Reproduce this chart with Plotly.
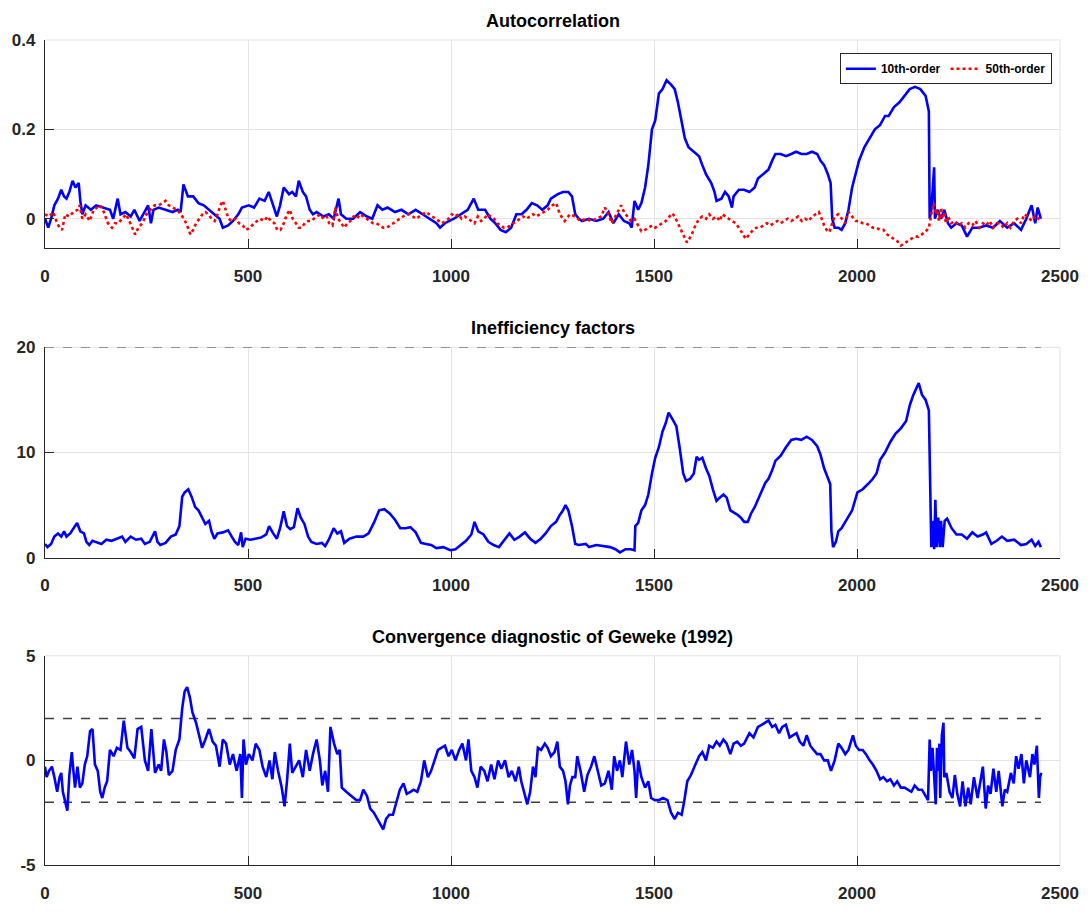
import plotly.graph_objects as go

# ---------------- data ----------------
ac10_x = [0, 8, 15, 23, 32, 40, 47, 53, 60, 68, 75, 83, 87, 92, 100, 113, 126, 143, 160, 168, 179, 186, 198, 211, 220, 233, 245, 254, 261, 267, 280, 297, 314, 327, 334, 341, 352, 365, 378, 391, 404, 417, 430, 438, 451, 463, 476, 485, 502, 515, 528, 541, 551, 562, 571, 579, 588, 601, 609, 618, 625, 635, 643, 652, 660, 669, 677, 686, 699, 711, 723, 729, 742, 759, 776, 793, 806, 819, 831, 844, 862, 878, 895, 913, 930, 947, 964, 973, 985, 1007, 1024, 1041, 1056, 1067, 1084, 1097, 1109, 1122, 1135, 1148, 1161, 1174, 1186, 1199, 1212, 1225, 1238, 1246, 1263, 1276, 1289, 1298, 1306, 1315, 1323, 1340, 1358, 1375, 1388, 1400, 1413, 1426, 1439, 1445, 1452, 1461, 1469, 1478, 1486, 1495, 1503, 1512, 1521, 1531, 1542, 1551, 1559, 1568, 1576, 1585, 1598, 1611, 1619, 1628, 1641, 1649, 1654, 1666, 1675, 1684, 1692, 1696, 1709, 1722, 1735, 1748, 1756, 1769, 1782, 1791, 1799, 1812, 1825, 1838, 1850, 1863, 1876, 1889, 1902, 1910, 1919, 1928, 1935, 1939, 1945, 1954, 1962, 1971, 1979, 1988, 1997, 2005, 2018, 2031, 2044, 2057, 2069, 2078, 2091, 2104, 2117, 2130, 2143, 2156, 2169, 2177, 2179, 2183, 2190, 2192, 2198, 2207, 2215, 2224, 2232, 2245, 2258, 2271, 2284, 2301, 2318, 2335, 2352, 2370, 2387, 2404, 2417, 2430, 2439, 2445, 2453]
ac10_y = [0.0, -0.02, 0.0, 0.03, 0.045, 0.065, 0.05, 0.045, 0.06, 0.085, 0.07, 0.08, 0.04, 0.01, 0.03, 0.02, 0.03, 0.025, 0.02, 0.0, 0.045, 0.01, 0.015, 0.005, 0.02, -0.005, 0.015, 0.03, -0.01, 0.02, 0.025, 0.02, 0.015, 0.02, 0.015, 0.077, 0.05, 0.05, 0.035, 0.03, 0.02, 0.01, 0.0, -0.02, -0.015, -0.005, 0.01, 0.025, 0.03, 0.025, 0.045, 0.04, 0.06, 0.03, 0.005, 0.03, 0.07, 0.055, 0.06, 0.05, 0.085, 0.06, 0.05, 0.02, 0.01, 0.015, 0.01, 0.005, 0.01, 0.0, 0.045, 0.01, 0.0, 0.0, 0.015, 0.005, 0.0, 0.03, 0.02, 0.025, 0.015, 0.02, 0.01, 0.02, 0.01, 0.0, -0.01, -0.02, -0.01, 0.0, 0.01, 0.02, 0.045, 0.02, 0.02, 0.0, -0.01, -0.025, -0.03, -0.02, 0.01, 0.01, 0.02, 0.035, 0.03, 0.02, 0.03, 0.045, 0.055, 0.06, 0.06, 0.05, 0.01, 0.0, -0.005, 0.0, -0.005, 0.0, 0.015, -0.01, 0.01, -0.005, -0.01, -0.02, 0.04, 0.02, 0.035, 0.07, 0.12, 0.2, 0.22, 0.28, 0.29, 0.31, 0.3, 0.29, 0.26, 0.22, 0.18, 0.16, 0.15, 0.14, 0.12, 0.1, 0.08, 0.06, 0.04, 0.045, 0.06, 0.05, 0.025, 0.05, 0.065, 0.065, 0.06, 0.07, 0.09, 0.1, 0.11, 0.13, 0.145, 0.145, 0.14, 0.145, 0.15, 0.145, 0.145, 0.15, 0.145, 0.13, 0.12, 0.1, 0.08, 0.0, -0.02, -0.02, -0.025, -0.01, 0.02, 0.07, 0.1, 0.13, 0.16, 0.18, 0.2, 0.21, 0.23, 0.23, 0.25, 0.26, 0.275, 0.29, 0.295, 0.29, 0.275, 0.24, 0.0, 0.02, 0.115, 0.0, 0.02, 0.0, 0.02, -0.01, -0.02, -0.01, -0.015, -0.04, -0.02, -0.02, -0.015, -0.02, -0.005, -0.02, -0.01, -0.025, 0.0, 0.03, -0.01, 0.025, 0.0]

ac50_x = [0, 10, 20, 30, 36, 42, 50, 60, 70, 80, 85, 92, 100, 110, 120, 128, 136, 145, 155, 165, 172, 180, 190, 200, 210, 215, 222, 230, 240, 250, 260, 270, 280, 290, 297, 305, 315, 325, 335, 345, 352, 358, 365, 372, 380, 388, 395, 402, 410, 418, 425, 432, 438, 445, 452, 460, 470, 478, 487, 495, 505, 515, 522, 530, 540, 548, 556, 565, 572, 580, 588, 596, 603, 610, 618, 625, 632, 640, 648, 656, 662, 670, 678, 686, 694, 700, 708, 715, 722, 730, 737, 745, 752, 760, 768, 776, 784, 792, 800, 808, 816, 825, 833, 842, 850, 858, 866, 874, 882, 890, 898, 906, 914, 922, 930, 938, 946, 954, 962, 970, 978, 986, 994, 1002, 1010, 1018, 1026, 1034, 1042, 1050, 1058, 1066, 1074, 1082, 1090, 1098, 1106, 1114, 1122, 1130, 1138, 1146, 1154, 1162, 1170, 1178, 1186, 1194, 1202, 1210, 1220, 1238, 1250, 1259, 1268, 1280, 1293, 1306, 1319, 1332, 1345, 1358, 1370, 1379, 1388, 1396, 1405, 1413, 1419, 1426, 1435, 1443, 1452, 1461, 1469, 1478, 1486, 1495, 1503, 1512, 1521, 1529, 1538, 1545, 1551, 1559, 1568, 1575, 1581, 1587, 1593, 1602, 1611, 1619, 1628, 1636, 1645, 1654, 1662, 1668, 1675, 1684, 1692, 1701, 1709, 1718, 1726, 1735, 1744, 1752, 1761, 1769, 1778, 1786, 1795, 1804, 1812, 1821, 1829, 1838, 1846, 1855, 1864, 1872, 1881, 1889, 1898, 1906, 1913, 1919, 1925, 1932, 1939, 1945, 1954, 1962, 1971, 1979, 1988, 1997, 2005, 2014, 2022, 2031, 2039, 2048, 2057, 2065, 2074, 2082, 2091, 2099, 2108, 2117, 2125, 2134, 2142, 2151, 2160, 2168, 2177, 2181, 2185, 2190, 2194, 2198, 2202, 2207, 2211, 2215, 2219, 2224, 2232, 2241, 2250, 2258, 2267, 2275, 2284, 2292, 2301, 2310, 2318, 2327, 2335, 2344, 2352, 2361, 2370, 2378, 2387, 2395, 2404, 2412, 2421, 2430, 2438, 2447, 2453]
ac50_y = [0.01, 0.005, 0.015, -0.01, -0.02, -0.025, 0.01, 0.005, 0.015, 0.02, 0.03, 0.0, 0.01, -0.005, 0.02, 0.025, 0.03, 0.015, -0.01, -0.02, -0.01, -0.01, 0.0, 0.01, -0.01, -0.02, -0.035, -0.02, -0.01, 0.01, 0.02, 0.03, 0.03, 0.035, 0.04, 0.03, 0.025, 0.02, 0.01, -0.005, -0.02, -0.035, -0.025, -0.01, 0.0, 0.01, 0.015, 0.01, 0.0, -0.005, 0.01, 0.03, 0.04, 0.02, 0.0, -0.005, 0.0, -0.01, -0.015, -0.025, -0.02, -0.01, -0.005, 0.0, -0.005, 0.005, -0.005, -0.01, -0.025, -0.025, -0.01, 0.01, 0.02, 0.0, -0.01, -0.02, -0.02, -0.01, -0.005, -0.005, 0.0, 0.005, 0.01, 0.0, 0.005, -0.01, -0.015, 0.025, 0.0, -0.01, -0.02, -0.01, -0.005, 0.005, 0.0, 0.01, 0.005, 0.0, -0.005, -0.01, -0.01, -0.015, -0.02, -0.02, -0.015, -0.01, -0.005, 0.0, 0.005, 0.01, 0.01, 0.005, 0.0, 0.005, 0.01, 0.015, 0.01, 0.005, 0.0, -0.005, -0.01, -0.005, 0.0, 0.01, 0.005, 0.01, 0.0, 0.005, 0.0, -0.005, -0.01, 0.005, -0.005, 0.0, 0.01, 0.005, 0.0, -0.01, -0.015, -0.02, -0.02, -0.015, -0.01, -0.005, 0.0, 0.005, 0.0, 0.005, 0.01, 0.005, 0.01, 0.02, 0.03, 0.035, 0.01, -0.005, 0.01, 0.005, -0.005, 0.0, -0.005, 0.0, 0.005, 0.025, 0.01, -0.01, 0.005, 0.02, 0.03, 0.015, 0.005, -0.005, 0.0, -0.015, -0.028, -0.025, -0.02, -0.015, -0.02, -0.015, -0.01, -0.005, 0.005, 0.012, 0.005, -0.01, -0.025, -0.04, -0.053, -0.045, -0.035, -0.015, 0.0, 0.005, 0.0, 0.01, 0.0, 0.005, -0.005, 0.01, 0.005, 0.0, -0.005, -0.01, -0.02, -0.035, -0.045, -0.035, -0.025, -0.02, -0.02, -0.015, -0.01, -0.015, -0.01, -0.005, -0.01, -0.005, 0.0, -0.005, 0.0, 0.005, -0.005, 0.0, -0.005, 0.005, 0.01, 0.015, 0.0, -0.015, -0.025, -0.03, -0.01, 0.005, 0.01, 0.0, -0.01, 0.015, 0.005, -0.005, -0.005, -0.01, -0.01, -0.015, -0.02, -0.02, -0.025, -0.025, -0.035, -0.04, -0.045, -0.05, -0.06, -0.055, -0.05, -0.045, -0.04, -0.04, -0.035, -0.03, -0.02, 0.0, 0.02, 0.035, 0.01, 0.02, -0.005, 0.025, 0.0, 0.015, -0.01, 0.005, -0.01, -0.005, -0.015, -0.01, -0.02, -0.01, -0.015, -0.005, -0.02, -0.01, -0.015, -0.005, -0.02, -0.01, -0.01, -0.02, -0.01, -0.02, -0.005, 0.0, -0.01, 0.01, 0.005, -0.005, 0.005, 0.0, 0.01]

ineff_x = [0, 6, 15, 23, 32, 40, 47, 53, 62, 70, 79, 87, 96, 102, 109, 117, 126, 139, 151, 164, 177, 190, 198, 211, 224, 237, 246, 258, 271, 277, 284, 297, 310, 322, 331, 338, 344, 353, 361, 370, 378, 387, 395, 404, 410, 417, 425, 438, 451, 460, 468, 476, 483, 487, 494, 506, 519, 532, 545, 552, 562, 571, 579, 588, 596, 604, 613, 622, 630, 639, 648, 656, 669, 682, 690, 699, 711, 720, 729, 737, 750, 767, 784, 797, 810, 823, 836, 849, 862, 875, 888, 900, 913, 926, 938, 951, 964, 981, 998, 1011, 1024, 1037, 1050, 1058, 1067, 1080, 1092, 1105, 1118, 1131, 1144, 1156, 1169, 1182, 1195, 1208, 1221, 1233, 1246, 1259, 1267, 1276, 1282, 1289, 1298, 1306, 1315, 1332, 1340, 1358, 1375, 1392, 1405, 1416, 1430, 1443, 1452, 1454, 1461, 1469, 1478, 1486, 1495, 1503, 1512, 1521, 1529, 1536, 1545, 1555, 1563, 1572, 1579, 1589, 1598, 1605, 1611, 1619, 1628, 1636, 1645, 1654, 1662, 1671, 1679, 1688, 1696, 1705, 1714, 1722, 1731, 1739, 1748, 1756, 1765, 1774, 1782, 1791, 1799, 1812, 1825, 1838, 1850, 1863, 1876, 1889, 1902, 1910, 1919, 1928, 1934, 1937, 1941, 1948, 1954, 1962, 1975, 1988, 2001, 2014, 2027, 2039, 2048, 2057, 2069, 2082, 2095, 2108, 2121, 2130, 2139, 2152, 2160, 2169, 2177, 2180, 2183, 2187, 2190, 2193, 2196, 2200, 2204, 2207, 2211, 2216, 2222, 2233, 2245, 2258, 2271, 2284, 2297, 2310, 2318, 2331, 2344, 2357, 2370, 2387, 2404, 2417, 2430, 2439, 2447, 2453]
ineff_y = [1.3, 1.0, 1.3, 2.0, 2.3, 2.0, 2.5, 2.0, 2.3, 2.8, 3.3, 2.5, 2.3, 1.5, 1.2, 1.6, 1.5, 1.3, 1.7, 1.6, 1.8, 2.0, 1.5, 2.0, 1.7, 1.8, 1.3, 1.5, 2.5, 1.5, 1.2, 1.4, 2.0, 2.2, 3.0, 5.8, 6.2, 6.5, 5.8, 4.8, 4.5, 3.8, 3.2, 3.5, 2.5, 1.8, 2.3, 2.4, 2.6, 2.0, 1.5, 1.2, 2.4, 1.0, 1.8, 1.7, 1.8, 1.9, 2.2, 3.0, 2.3, 1.8, 2.8, 4.4, 3.0, 2.7, 2.9, 4.7, 3.8, 3.2, 2.0, 1.5, 1.3, 1.4, 1.1, 1.7, 2.8, 2.3, 2.5, 1.4, 1.8, 2.0, 2.0, 2.3, 3.3, 4.5, 4.6, 4.2, 3.6, 2.8, 2.8, 2.9, 2.4, 1.4, 1.3, 1.2, 0.9, 1.0, 0.7, 0.8, 1.2, 1.6, 2.2, 3.4, 2.5, 2.2, 1.5, 1.2, 1.0, 1.6, 2.3, 1.7, 2.0, 2.4, 1.8, 1.4, 1.8, 2.3, 3.0, 3.4, 4.0, 4.5, 5.0, 4.5, 3.0, 1.3, 1.2, 1.3, 1.0, 1.2, 1.1, 1.0, 0.8, 0.5, 0.8, 0.8, 0.7, 3.0, 3.3, 4.5, 5.0, 6.0, 8.0, 9.5, 10.5, 12.0, 12.8, 13.8, 13.2, 12.5, 10.5, 8.0, 7.3, 7.5, 8.0, 9.6, 9.3, 9.5, 8.5, 7.8, 6.5, 5.4, 5.7, 6.0, 5.7, 4.5, 4.3, 4.1, 3.8, 3.4, 3.4, 4.2, 4.8, 5.5, 6.3, 7.1, 7.5, 8.3, 9.2, 9.7, 10.5, 11.2, 11.3, 11.2, 11.5, 11.2, 10.6, 9.8, 8.5, 7.5, 7.0, 2.5, 1.0, 1.5, 2.5, 2.8, 3.6, 4.5, 6.2, 6.5, 7.0, 7.5, 8.0, 9.3, 10.0, 11.0, 11.8, 12.3, 13.0, 14.5, 15.5, 16.6, 15.5, 15.0, 14.0, 5.0, 1.0, 3.5, 0.8, 5.5, 1.0, 3.8, 1.0, 3.5, 1.0, 3.5, 3.7, 2.8, 2.2, 2.2, 1.8, 2.4, 2.0, 2.2, 2.4, 1.3, 1.6, 2.0, 1.6, 1.7, 1.2, 1.3, 1.7, 1.1, 1.5, 1.0]

gew_x = [0, 4, 10, 17, 23, 30, 36, 40, 44, 50, 55, 60, 66, 70, 74, 80, 86, 92, 98, 104, 111, 117, 123, 130, 136, 141, 147, 153, 160, 169, 177, 186, 194, 203, 211, 220, 228, 237, 246, 254, 262, 271, 280, 286, 293, 299, 305, 314, 322, 331, 338, 344, 350, 357, 363, 372, 380, 387, 395, 404, 413, 421, 430, 438, 446, 455, 463, 472, 481, 485, 489, 495, 502, 511, 519, 528, 536, 545, 553, 560, 566, 574, 583, 590, 596, 603, 609, 617, 626, 635, 643, 652, 660, 669, 677, 683, 690, 697, 703, 712, 720, 726, 731, 742, 754, 767, 776, 784, 793, 801, 810, 818, 827, 833, 840, 848, 857, 866, 874, 883, 891, 900, 908, 917, 926, 934, 943, 951, 959, 968, 976, 985, 994, 1002, 1011, 1020, 1028, 1037, 1043, 1050, 1058, 1065, 1073, 1082, 1090, 1099, 1107, 1116, 1124, 1133, 1142, 1150, 1159, 1167, 1173, 1182, 1188, 1195, 1202, 1208, 1214, 1222, 1231, 1238, 1246, 1255, 1262, 1268, 1276, 1282, 1288, 1293, 1299, 1306, 1311, 1319, 1328, 1336, 1345, 1353, 1362, 1370, 1379, 1388, 1396, 1402, 1409, 1416, 1422, 1431, 1439, 1446, 1452, 1456, 1461, 1469, 1478, 1486, 1493, 1502, 1512, 1522, 1533, 1542, 1551, 1559, 1568, 1574, 1582, 1591, 1602, 1611, 1619, 1628, 1636, 1645, 1654, 1662, 1671, 1679, 1688, 1696, 1705, 1714, 1722, 1735, 1745, 1756, 1765, 1774, 1782, 1791, 1799, 1808, 1816, 1825, 1834, 1842, 1851, 1859, 1868, 1876, 1885, 1893, 1902, 1910, 1919, 1928, 1936, 1945, 1954, 1962, 1971, 1979, 1990, 1997, 2005, 2014, 2022, 2031, 2039, 2048, 2057, 2065, 2074, 2082, 2091, 2099, 2108, 2117, 2125, 2134, 2142, 2151, 2160, 2168, 2175, 2179, 2182, 2186, 2190, 2194, 2197, 2200, 2203, 2205, 2209, 2213, 2215, 2220, 2228, 2235, 2241, 2247, 2254, 2260, 2267, 2274, 2280, 2288, 2297, 2303, 2310, 2317, 2323, 2329, 2336, 2343, 2349, 2358, 2364, 2370, 2379, 2386, 2392, 2398, 2405, 2411, 2417, 2426, 2432, 2437, 2443, 2448, 2451, 2454]
gew_y = [-0.3, -0.8, -0.5, -0.3, -0.8, -1.5, -0.8, -0.6, -1.5, -2.0, -2.4, -0.7, 0.4, -0.5, -1.3, -0.3, -1.3, -1.1, -0.2, 0.2, 1.4, 1.5, -0.2, -0.5, -1.5, -1.8, -1.3, -1.0, 0.5, 0.2, 0.6, 0.5, 1.9, 0.6, 0.4, 0.1, 1.5, 1.6, 0.0, -0.5, 1.5, -0.6, -0.2, -0.5, 1.0, 0.4, -0.7, -0.5, 0.5, 1.0, 2.5, 3.3, 3.5, 3.0, 2.3, 1.8, 1.2, 0.6, 1.0, 1.5, 0.9, 0.7, -0.3, 1.0, 0.8, -0.2, 0.3, -0.5, 0.3, -1.8, 1.0, -0.2, 0.3, 0.0, 0.8, 0.5, -0.3, -0.8, 0.0, -0.9, 0.4, -0.5, -1.3, -2.2, -1.0, 0.8, -0.6, -0.3, 0.0, -0.8, 0.5, -0.5, 0.3, 1.0, 0.0, -1.2, -0.5, -1.5, 1.6, 0.8, 0.3, 0.5, -1.3, -1.5, -1.7, -1.9, -1.9, -1.4, -1.7, -2.3, -2.5, -2.8, -3.1, -3.3, -2.8, -2.6, -2.6, -2.0, -1.4, -1.1, -1.6, -1.5, -1.4, -1.5, -1.0, 0.0, -0.8, -0.5, 0.0, 0.5, 0.6, 0.7, 0.2, 0.5, 0.0, 0.5, 0.8, 0.0, 1.0, -0.5, -0.8, -1.3, -0.3, -0.5, -1.0, -0.2, -0.9, 0.0, -0.4, 0.0, -0.8, -0.5, -1.0, -0.3, -1.0, -1.7, -2.1, -1.5, -0.3, -0.8, 0.6, 0.5, 0.8, 0.6, 0.2, 0.4, 0.9, -0.3, -0.5, -1.0, -2.1, -1.2, -0.8, -0.8, 0.2, -0.5, -1.5, -0.7, -0.3, 0.2, -0.6, -1.2, -1.1, -0.5, -1.4, 0.2, -0.5, 0.0, -0.8, 0.9, -0.2, 0.5, -0.5, -1.8, 0.0, -0.8, -1.3, -1.0, -1.8, -1.9, -1.9, -1.8, -1.9, -2.5, -2.8, -2.5, -2.6, -2.0, -1.0, -0.7, -0.2, 0.2, 0.4, 0.0, 0.7, 0.6, 0.9, 0.7, 1.0, 0.8, 0.3, 0.8, 0.9, 0.7, 0.8, 1.3, 1.1, 1.6, 1.7, 1.8, 1.9, 1.6, 1.7, 1.3, 1.6, 1.7, 1.1, 1.2, 1.3, 0.9, 0.7, 1.2, 0.7, 0.5, 0.3, 0.3, 0.0, 0.0, -0.5, 0.0, 0.8, 0.6, 0.3, 0.5, 1.2, 0.7, 0.5, 0.5, 0.3, 0.0, -0.2, -0.5, -0.9, -0.8, -1.0, -0.9, -1.2, -1.0, -1.3, -1.3, -1.4, -1.5, -1.2, -1.4, -1.4, -1.7, -1.9, 1.0, -0.5, 0.6, -1.0, -2.1, 0.6, -0.5, 0.8, -1.8, 1.2, 1.8, -0.8, -0.6, -1.5, -1.8, -0.7, -1.6, -2.2, -1.0, -2.2, -1.3, -2.1, -0.8, -1.8, -1.0, -0.3, -2.3, -1.2, -1.6, -0.4, -1.5, -0.5, -2.2, -1.4, -1.5, -0.6, -1.1, 0.2, -0.4, 0.3, -1.1, 0.0, -0.8, 0.3, -0.2, 0.7, -1.8, -0.8, -0.6]

ineff_ref = 20
gew_bands = [2, -2]
ref_x = [0, 2453]

x_ticks = [0, 500, 1000, 1500, 2000, 2500]
titles = ["Autocorrelation", "Inefficiency factors", "Convergence diagnostic of Geweke (1992)"]
legend_names = ["10th-order", "50th-order"]

# ---------------- styling ----------------
FONT = "Liberation Sans Narrow, Arial Narrow, Liberation Sans, Arial, sans-serif"
BLUE = "#0000ff"
RED = "#ff0000"
AX = "#262626"
GRID = "#e3e3e3"
DASH = "#404040"

fig = go.Figure()

fig.add_trace(go.Scatter(x=ac10_x, y=ac10_y, mode="lines", name=legend_names[0],
                         line=dict(color=BLUE, width=2.6), xaxis="x", yaxis="y"))
fig.add_trace(go.Scatter(x=ac50_x, y=ac50_y, mode="lines", name=legend_names[1],
                         line=dict(color=RED, width=2.6, dash="dot"), xaxis="x", yaxis="y"))

fig.add_trace(go.Scatter(x=ref_x, y=[ineff_ref, ineff_ref], mode="lines", showlegend=False,
                         line=dict(color=DASH, width=1.4, dash="dash"), xaxis="x2", yaxis="y2"))
fig.add_trace(go.Scatter(x=ineff_x, y=ineff_y, mode="lines", showlegend=False,
                         line=dict(color=BLUE, width=2.6), xaxis="x2", yaxis="y2"))

for b in gew_bands:
    fig.add_trace(go.Scatter(x=ref_x, y=[b, b], mode="lines", showlegend=False,
                             line=dict(color=DASH, width=1.4, dash="dash"), xaxis="x3", yaxis="y3"))
fig.add_trace(go.Scatter(x=gew_x, y=gew_y, mode="lines", showlegend=False,
                         line=dict(color=BLUE, width=2.6), xaxis="x3", yaxis="y3"))

T = 40
B = 43
H = 915 - T - B
def dom(top_px, bot_px):
    return [(915 - B - bot_px) / H, (915 - B - top_px) / H]

domains = [dom(40, 250), dom(350, 562), dom(661, 872)]
yranges = [[-0.066, 0.4], [0, 20], [-5, 5]]
yticks = [[0, 0.2, 0.4], [0, 10, 20], [-5, 0, 5]]
yticktext = [["0", "0.2", "0.4"], ["0", "10", "20"], ["-5", "0", "5"]]

tickfont = dict(family=FONT, size=17, color=AX, weight="bold")
common_x = dict(range=[0, 2500], tickvals=x_ticks, ticks="inside", ticklen=9, tickwidth=1,
                tickcolor=AX, showline=True, linecolor=AX, linewidth=1.2, showgrid=True,
                gridcolor=GRID, gridwidth=1, zeroline=False, tickfont=tickfont,
                ticklabelstandoff=12, fixedrange=True)
common_y = dict(ticks="inside", ticklen=9, tickwidth=1, tickcolor=AX, showline=True,
                linecolor=AX, linewidth=1.2, showgrid=True, gridcolor=GRID, gridwidth=1,
                zeroline=False, tickfont=tickfont, ticklabelstandoff=5, fixedrange=True)

layout = dict(width=1091, height=915, paper_bgcolor="white", plot_bgcolor="white",
              margin=dict(l=40, r=27, t=T, b=B), showlegend=True,
              legend=dict(orientation="h", x=0.992, xanchor="right", y=0.984, yanchor="top",
                          bgcolor="white", bordercolor=AX, borderwidth=1,
                          font=dict(family=FONT, size=12, color="black", weight="bold"),
                          itemwidth=30, tracegroupgap=0))
annotations = []
shapes = []
for i in range(3):
    sx = "" if i == 0 else str(i + 1)
    layout["xaxis" + sx] = dict(common_x, domain=[0, 1], anchor="y" + sx)
    layout["yaxis" + sx] = dict(common_y, domain=domains[i], anchor="x" + sx, range=yranges[i],
                                tickvals=yticks[i], ticktext=yticktext[i])
    annotations.append(dict(text=titles[i], x=0.5, xref="paper", y=domains[i][1], yref="paper",
                            yanchor="bottom", xanchor="center", yshift=7, showarrow=False,
                            font=dict(family=FONT, size=18, color="black", weight="bold")))
    # light box edges (top / right), as in the original figure
    shapes.append(dict(type="line", xref="x" + sx + " domain", yref="y" + sx + " domain",
                       x0=0, x1=1, y0=1, y1=1, line=dict(color=GRID, width=1), layer="below"))
    shapes.append(dict(type="line", xref="x" + sx + " domain", yref="y" + sx + " domain",
                       x0=1, x1=1, y0=0, y1=1, line=dict(color=GRID, width=1), layer="below"))
layout["annotations"] = annotations
layout["shapes"] = shapes
fig.update_layout(**layout)

fig.write_html("out.html")
